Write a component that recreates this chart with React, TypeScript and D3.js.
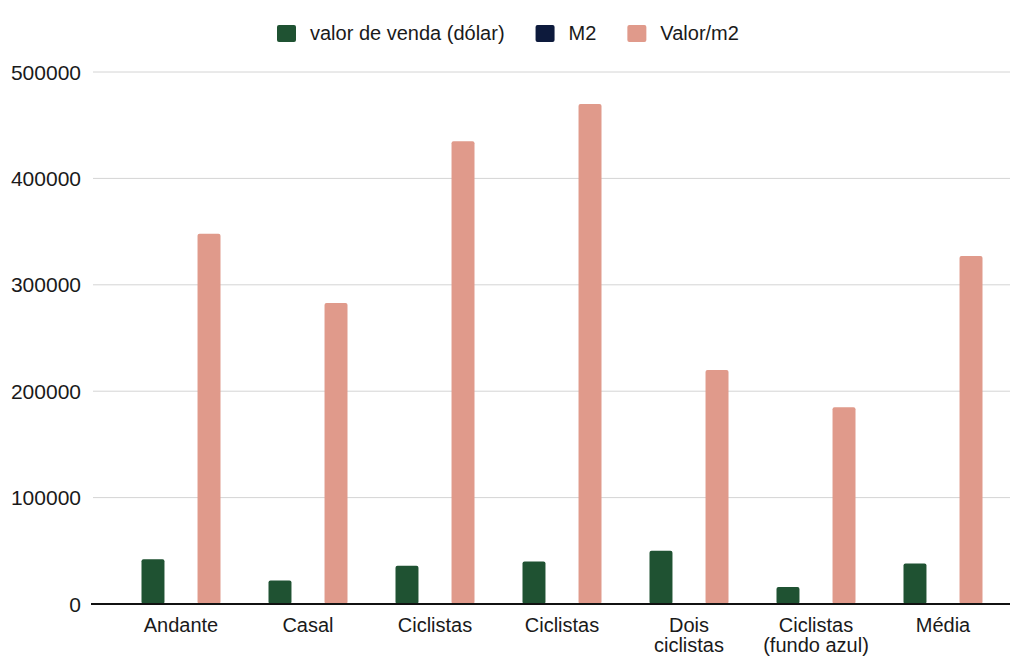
import React, { useEffect, useRef } from "react";
import * as d3 from "d3";

const categories = [
  "Andante",
  "Casal",
  "Ciclistas",
  "Ciclistas ",
  "Dois\nciclistas",
  "Ciclistas\n(fundo azul)",
  "Média",
];
const seriesNames = ["valor de venda (dólar)", "M2", "Valor/m2"];
const valorVenda = [42000, 22000, 36000, 40000, 50000, 16000, 38000];
const m2 = [120, 80, 85, 90, 230, 90, 115];
const valorM2 = [348000, 283000, 435000, 470000, 220000, 185000, 327000];
const yTicks = [0, 100000, 200000, 300000, 400000, 500000];
const colors = ["#1f5232", "#0d1a3c", "#e09a8b"];

const W = 1019;
const H = 658;

export default function App() {
  const ref = useRef<SVGSVGElement | null>(null);

  useEffect(() => {
    const svg = d3.select(ref.current);
    svg.selectAll("*").remove();
    const font = "'Liberation Sans', Arial, sans-serif";

    const y = d3.scaleLinear().domain([0, 500000]).range([604, 72]);
    const x0 = d3.scaleBand<string>().domain(categories).range([117.5, 1006.5]);
    const x1 = d3
      .scaleBand<string>()
      .domain(seriesNames)
      .range([0, 79])
      .paddingInner(0.18);
    const off = (x0.bandwidth() - 79) / 2;

    const g = svg.append("g");

    // gridlines
    g.selectAll("line.grid")
      .data(yTicks.filter((t) => t > 0))
      .enter()
      .append("line")
      .attr("x1", 93)
      .attr("x2", 1010)
      .attr("y1", (d) => y(d))
      .attr("y2", (d) => y(d))
      .attr("stroke", "#d4d4d4")
      .attr("stroke-width", 1);

    // y labels
    g.selectAll("text.ylab")
      .data(yTicks)
      .enter()
      .append("text")
      .attr("x", 81)
      .attr("y", (d) => y(d))
      .attr("dy", "0.36em")
      .attr("text-anchor", "end")
      .attr("font-family", font)
      .attr("font-size", 21)
      .attr("fill", "#1a1a1a")
      .text((d) => String(d));

    const data = [valorVenda, m2, valorM2];
    seriesNames.forEach((s, si) => {
      g.selectAll(`rect.s${si}`)
        .data(categories.map((c, i) => ({ c, v: data[si][i] })))
        .enter()
        .append("rect")
        .attr("x", (d) => (x0(d.c) as number) + off + (x1(s) as number))
        .attr("width", x1.bandwidth())
        .attr("y", (d) => y(d.v))
        .attr("height", (d) => y(0) - y(d.v))
        .attr("rx", 2)
        .attr("fill", colors[si]);
    });

    // baseline
    g.append("line")
      .attr("x1", 91)
      .attr("x2", 1010)
      .attr("y1", y(0))
      .attr("y2", y(0))
      .attr("stroke", "#111")
      .attr("stroke-width", 2);

    // category labels
    categories.forEach((c) => {
      const lines = c.trim().split("\n");
      const t = g
        .append("text")
        .attr("x", (x0(c) as number) + x0.bandwidth() / 2)
        .attr("y", 632)
        .attr("text-anchor", "middle")
        .attr("font-family", font)
        .attr("font-size", 20)
        .attr("fill", "#1a1a1a");
      lines.forEach((l, i) => {
        t.append("tspan")
          .attr("x", (x0(c) as number) + x0.bandwidth() / 2)
          .attr("dy", i === 0 ? 0 : 20)
          .text(l);
      });
    });

    // legend
    let lx = 277;
    seriesNames.forEach((s, i) => {
      g.append("rect")
        .attr("x", lx)
        .attr("y", 25)
        .attr("width", 19)
        .attr("height", 17)
        .attr("rx", 2)
        .attr("fill", colors[i]);
      const t = g
        .append("text")
        .attr("x", lx + 33)
        .attr("y", 40)
        .attr("font-family", font)
        .attr("font-size", 20)
        .attr("fill", "#1a1a1a")
        .text(s);
      const w = (t.node() as SVGTextElement).getComputedTextLength();
      lx = lx + 33 + w + 31;
    });
  }, []);

  return (
    <svg
      ref={ref}
      width={W}
      height={H}
      style={{ position: "absolute", left: 0, top: 0, background: "#fff" }}
    />
  );
}
